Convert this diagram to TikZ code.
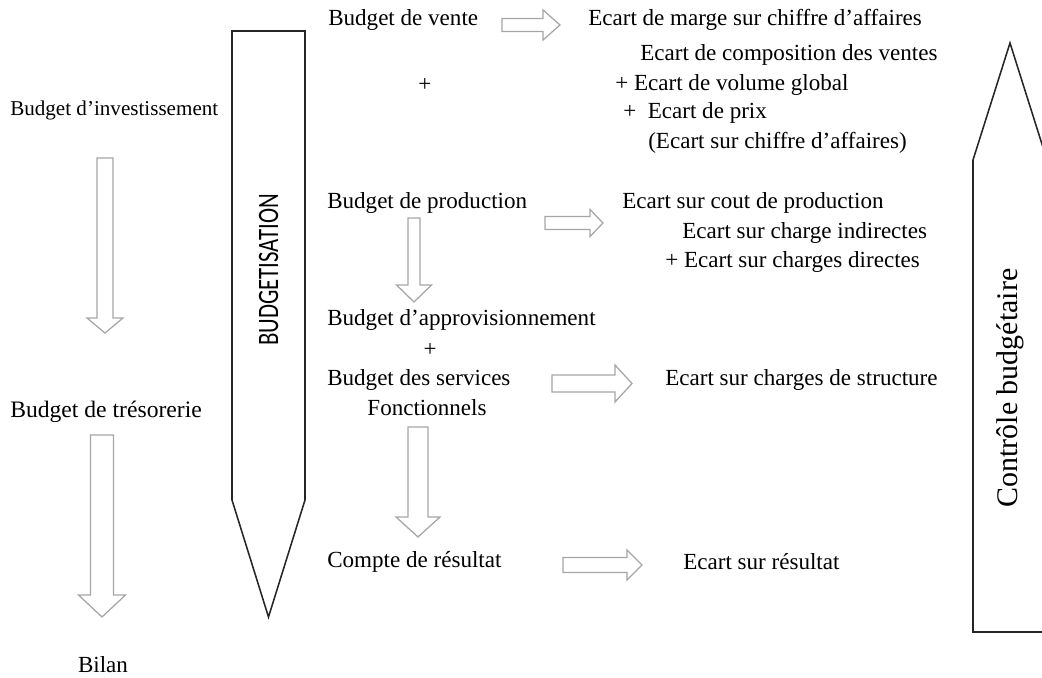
\documentclass[tikz,border=0pt]{standalone}
\usepackage{fontspec}
\setmainfont{Liberation Serif}
\newfontfamily\calibrifont{Carlito}

\tikzset{
  lbl/.style={anchor=west,inner sep=0pt,font=\fontsize{16.4}{21}\selectfont},
  clbl/.style={inner sep=0pt,font=\fontsize{16.4}{21}\selectfont},
  hollow/.style={draw=black!35,fill=white,line width=0.9pt,line join=miter},
  bigarrow/.style={draw=black!85,line width=1.1pt}
}

% hollow arrows: centre, start, head base, tip, half shaft, half head
\newcommand{\downarr}[6]{\draw[hollow] ({#1-#5},#2) -- ({#1+#5},#2) -- ({#1+#5},#3) -- ({#1+#6},#3) -- (#1,#4) -- ({#1-#6},#3) -- ({#1-#5},#3) -- cycle;}
\newcommand{\rightarr}[6]{\draw[hollow] (#2,{#1-#5}) -- (#3,{#1-#5}) -- (#3,{#1-#6}) -- (#4,#1) -- (#3,{#1+#6}) -- (#3,{#1+#5}) -- (#2,{#1+#5}) -- cycle;}

\begin{document}
\begin{tikzpicture}[x=0.025cm,y=-0.025cm]

\useasboundingbox (0,0) rectangle (1042,678);

% left column
\node[lbl,font=\fontsize{15}{19}\selectfont] (inv) at (10,110) {Budget d’investissement};
\node[lbl,font=\fontsize{16.8}{21}\selectfont] (treso) at (10,412) {Budget de trésorerie};
\node[clbl] (bilan) at (103,665) {Bilan};

\downarr{105}{158}{318}{333}{8}{18}
\downarr{102}{435}{595}{617}{11.5}{23.5}

% budgetisation
\draw[bigarrow] (232,31) -- (305,31) -- (305,500) -- (268.5,617) -- (232,500) -- cycle;
\node[rotate=90,yscale=1.3,inner sep=0pt,font=\calibrifont\fontsize{16.2}{20}\selectfont] (budg) at (268.5,270) {BUDGETISATION};

% budgets
\node[lbl] (vente) at (328,20) {Budget de vente};
\node[clbl] (plusv) at (425,85) {+};
\node[lbl] (prod) at (327,203) {Budget de production};
\node[lbl] (appro) at (327,320) {Budget d’approvisionnement};
\node[clbl] (plusa) at (430,350) {+};
\node[lbl] (serv) at (327,380) {Budget des services};
\node[clbl] (fonct) at (427,408) {Fonctionnels};
\node[lbl] (resul) at (327,562) {Compte de résultat};

\downarr{414}{218}{285}{302}{6}{17.5}
\downarr{418}{427}{517}{537}{10}{22}

\rightarr{25}{502}{543}{560}{6.5}{15}
\rightarr{223}{545}{590}{603}{6.5}{13.5}
\rightarr{383.5}{552}{615}{632}{8.5}{18.5}
\rightarr{565}{563}{627}{642}{7.5}{15}

% ecarts
\node[lbl] (ecmarge) at (588,20) {Ecart de marge sur chiffre d’affaires};
\node[lbl] (eccompo) at (640,55) {Ecart de composition des ventes};
\node[lbl] (ecvol) at (615,85) {+ Ecart de volume global};
\node[lbl] (ecprix) at (623,113) {+~ Ecart de prix};
\node[lbl] (ecca) at (648,143) {(Ecart sur chiffre d’affaires)};

\node[lbl] (eccout) at (622,203) {Ecart sur cout de production};
\node[lbl] (ecind) at (682,233) {Ecart sur charge indirectes};
\node[lbl] (ecdir) at (665,262) {+ Ecart sur charges directes};

\node[lbl] (ecstruct) at (665,380) {Ecart sur charges de structure};
\node[lbl] (ecresul) at (683,562) {Ecart sur résultat};

% controle budgetaire
\begin{scope}
\clip (0,0) rectangle (1042,678);
\draw[bigarrow] (973,632) -- (973,160) -- (1010,43) -- (1047,160) -- (1047,632) -- cycle;
\end{scope}
\node[rotate=90,inner sep=0pt,font=\fontsize{21.3}{26}\selectfont] (ctrl) at (1010,388) {Contrôle budgétaire};

\end{tikzpicture}
\end{document}
